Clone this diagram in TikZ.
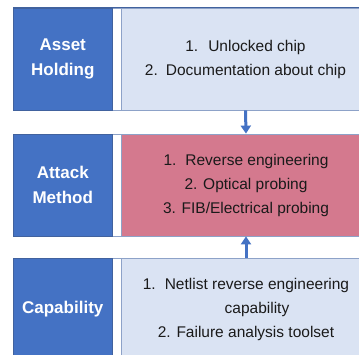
\documentclass[tikz,border=0pt]{standalone}
\usepackage{fontspec}
\setmainfont{Liberation Sans}
\usetikzlibrary{arrows.meta}
\definecolor{capblue}{HTML}{4472C4}
\definecolor{paleblue}{HTML}{DAE3F3}
\definecolor{rose}{HTML}{D4798E}
\definecolor{edge}{HTML}{41629E}
\definecolor{softedge}{HTML}{8DA2C8}
\definecolor{textgrey}{HTML}{1A1A1A}

\begin{document}
\begin{tikzpicture}[x=1pt,y=-1pt,
  rowframe/.style={draw=softedge, line width=0.8pt, fill=white,
    minimum width=356.5pt, minimum height=102pt, inner sep=0pt},
  catbox/.style={draw=edge, line width=0.8pt, fill=capblue,
    minimum width=98.5pt, minimum height=102pt, inner sep=0pt,
    text=white, align=center, font=\fontsize{17}{25}\selectfont\bfseries},
  detailbox/.style={draw=softedge, line width=0.8pt,
    minimum width=249pt, minimum height=102pt, inner sep=0pt,
    text=textgrey, align=center, font=\fontsize{15.5}{24}\selectfont},
  flow/.style={draw=capblue, line width=3pt,
    -{Triangle[width=10pt,length=8pt]}}]

\useasboundingbox (0,0) rectangle (359,355);
\fill[white] (0,0) rectangle (359,355);

% Row 1: what the attacker holds
\node[rowframe] (rowtop) at (191.75,59) {};
\node[catbox] (asset) at (62.75,59) {Asset\\Holding};
\node[detailbox, fill=paleblue] (assetbox) at (245.5,59)
  {1.\hspace{10pt}Unlocked chip\\2.\hspace{8pt}Documentation about chip};
% darker rule along the top of the first row
\draw[edge, line width=1.5pt] (rowtop.north west) -- (rowtop.north east);

% Row 2: attack methods
\node[rowframe] (rowmid) at (191.75,185) {};
\node[catbox] (method) at (62.75,185) {Attack\\Method};
\node[detailbox, fill=rose] (methodbox) at (246,185)
  {1.\hspace{9pt}Reverse engineering\\2. Optical probing\\3. FIB/Electrical probing};

% Row 3: required capability
\node[rowframe] (rowbot) at (191.75,309) {};
\node[catbox] (capability) at (62.75,309) {Capability};
\node[detailbox, fill=paleblue] (capbox) at (246,309)
  {1.\hspace{9pt}Netlist reverse engineering\\
   \phantom{1.\hspace{9pt}}capability\\2. Failure analysis toolset};

% Connectors into the attack method row
\draw[flow] (assetbox.south) -- (methodbox.north);
\draw[flow] (capbox.north) -- (methodbox.south);
\end{tikzpicture}
\end{document}
